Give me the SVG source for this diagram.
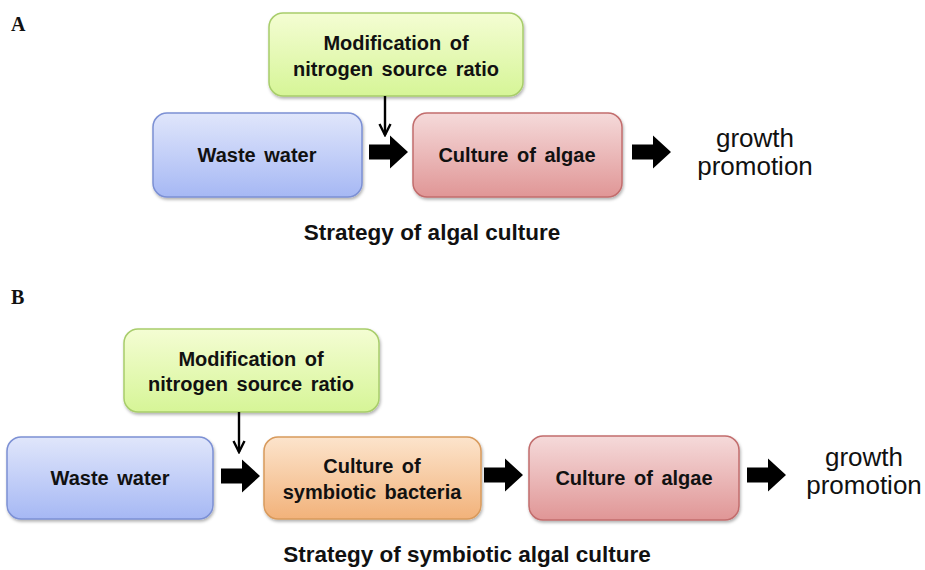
<svg xmlns="http://www.w3.org/2000/svg" width="925" height="570" viewBox="0 0 925 570">
<defs>
<linearGradient id="gGreen" x1="0" y1="0" x2="0" y2="1"><stop offset="0" stop-color="#f4fdd3"/><stop offset="1" stop-color="#d6f597"/></linearGradient>
<linearGradient id="gBlue" x1="0" y1="0" x2="0" y2="1"><stop offset="0" stop-color="#e0e6fb"/><stop offset="1" stop-color="#a6b8f4"/></linearGradient>
<linearGradient id="gRed" x1="0" y1="0" x2="0" y2="1"><stop offset="0" stop-color="#f5dada"/><stop offset="1" stop-color="#e09696"/></linearGradient>
<linearGradient id="gOrange" x1="0" y1="0" x2="0" y2="1"><stop offset="0" stop-color="#fce4cc"/><stop offset="1" stop-color="#f2b27a"/></linearGradient>
<filter id="sh" x="-10%" y="-10%" width="120%" height="130%"><feDropShadow dx="1" dy="2" stdDeviation="1.5" flood-color="#000" flood-opacity="0.3"/></filter>
<marker id="ah" viewBox="0 0 14 14" refX="12" refY="7" markerWidth="14" markerHeight="14" markerUnits="userSpaceOnUse" orient="auto"><path d="M1,1.5 L12,7 L1,12.5" fill="none" stroke="#000" stroke-width="2.4"/></marker>
<path id="blk" d="M0,-7.5 H21 V-16.5 L39,0 L21,16.5 V7.5 H0 Z" fill="#000"/>
</defs>
<style>
.box{stroke-width:1.5;filter:url(#sh)}
.green{fill:url(#gGreen);stroke:#a8cd6b}
.blue{fill:url(#gBlue);stroke:#7c90d4}
.red{fill:url(#gRed);stroke:#c26d6d}
.orange{fill:url(#gOrange);stroke:#d89a5c}
.lbl{font-family:"Liberation Sans",Arial,sans-serif;font-weight:bold;font-size:20px;word-spacing:3px;fill:#111;text-anchor:middle}
.out{font-family:"Liberation Sans",Arial,sans-serif;font-size:26px;fill:#111;text-anchor:middle}
.cap{font-family:"Liberation Sans",Arial,sans-serif;font-weight:bold;font-size:22.5px;fill:#111;text-anchor:middle}
.pan{font-family:"Liberation Serif","Times New Roman",serif;font-weight:bold;font-size:20px;fill:#111}
.thin{stroke:#000;stroke-width:2.4;fill:none}
</style>
<rect width="925" height="570" fill="#fff"/>
<text class="pan" x="11" y="31">A</text>
<text class="pan" x="11" y="304">B</text>

<g id="a-mod"><rect class="box green" x="269" y="13" width="254" height="83" rx="14"/><text class="lbl" x="396" y="50">Modification of</text><text class="lbl" x="396" y="76">nitrogen source ratio</text></g>
<g id="a-waste"><rect class="box blue" x="153" y="113" width="209" height="84" rx="14"/><text class="lbl" x="257" y="162">Waste water</text></g>
<g id="a-algae"><rect class="box red" x="413" y="113" width="209" height="84" rx="14"/><text class="lbl" x="517" y="162">Culture of algae</text></g>
<g id="a-growth"><text class="out" x="755" y="147">growth</text><text class="out" x="755" y="175">promotion</text></g>
<text class="cap" x="432" y="240">Strategy of algal culture</text>

<g id="b-mod"><rect class="box green" x="124" y="329" width="255" height="83" rx="14"/><text class="lbl" x="251" y="366">Modification of</text><text class="lbl" x="251" y="391">nitrogen source ratio</text></g>
<g id="b-waste"><rect class="box blue" x="7" y="437" width="206" height="82" rx="14"/><text class="lbl" x="110" y="485">Waste water</text></g>
<g id="b-bact"><rect class="box orange" x="264" y="437" width="217" height="82" rx="14"/><text class="lbl" x="372" y="473">Culture of</text><text class="lbl" x="372" y="499">symbiotic bacteria</text></g>
<g id="b-algae"><rect class="box red" x="529" y="436" width="210" height="84" rx="14"/><text class="lbl" x="634" y="485">Culture of algae</text></g>
<g id="b-growth"><text class="out" x="864" y="466">growth</text><text class="out" x="864" y="494">promotion</text></g>
<text class="cap" x="467" y="562">Strategy of symbiotic algal culture</text>

<g id="connectors">
<line class="thin" x1="385" y1="96" x2="385" y2="135" marker-end="url(#ah)"/>
<use href="#blk" x="369" y="152"/>
<use href="#blk" x="632" y="152"/>
<line class="thin" x1="239" y1="412" x2="239" y2="452" marker-end="url(#ah)"/>
<use href="#blk" x="221" y="476"/>
<use href="#blk" x="484" y="475"/>
<use href="#blk" x="747" y="475"/>
</g>
</svg>
